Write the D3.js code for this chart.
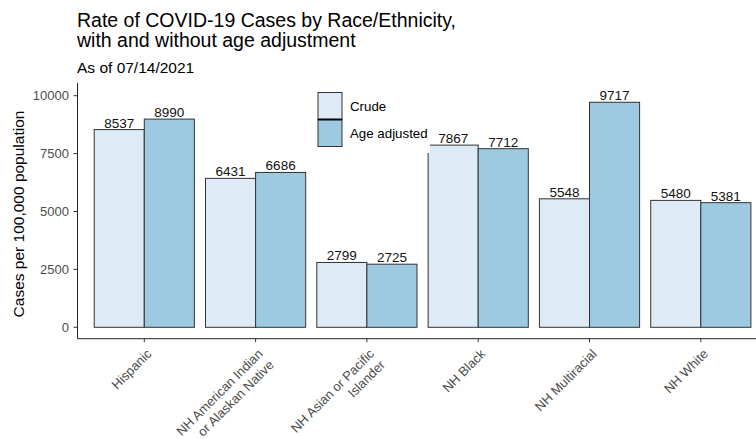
<!DOCTYPE html>
<html>
<head>
<meta charset="utf-8">
<script src="https://cdn.jsdelivr.net/npm/d3@7"></script>
<style>
  html, body { margin: 0; padding: 0; background: #fff; }
  svg { display: block; font-family: "Liberation Sans", Arial, sans-serif; }
</style>
</head>
<body>
<svg id="chart" width="756" height="439"></svg>
<script>
// Case rates per 100,000 by race/ethnicity
const categories = [
  "Hispanic",
  "NH American Indian\nor Alaskan Native",
  "NH Asian or Pacific\nIslander",
  "NH Black",
  "NH Multiracial",
  "NH White"
];
const seriesNames = ["Crude", "Age adjusted"];
const crude    = [8537, 6431, 2799, 7867, 5548, 5480];
const adjusted = [8990, 6686, 2725, 7712, 9717, 5381];
const yTicks = [0, 2500, 5000, 7500, 10000];
const seriesColors = ["#DEEBF7", "#9ECAE1"];

const svg = d3.select("#chart");

// Panel geometry
const panel = { left: 77.5, right: 767.6, top: 83, bottom: 338.7 };

const y = d3.scaleLinear().domain([0, 10000]).range([327.3, 95.7]);

const x = d3.scalePoint()
  .domain(categories)
  .range([panel.left, panel.right])
  .padding(0.6);

const step = x.step();
const xs = d3.scaleBand()
  .domain(seriesNames)
  .range([-0.45 * step, 0.45 * step])
  .padding(0);

const rows = [];
categories.forEach((c, i) => {
  rows.push({ cat: c, series: seriesNames[0], value: crude[i] });
  rows.push({ cat: c, series: seriesNames[1], value: adjusted[i] });
});
const color = d3.scaleOrdinal().domain(seriesNames).range(seriesColors);

// Bars
svg.append("g").selectAll("rect")
  .data(rows)
  .join("rect")
  .attr("x", d => x(d.cat) + xs(d.series))
  .attr("y", d => y(d.value))
  .attr("width", xs.bandwidth())
  .attr("height", d => y(0) - y(d.value))
  .attr("fill", d => color(d.series))
  .attr("stroke", "#333")
  .attr("stroke-width", 1);

// Value labels
svg.append("g").selectAll("text")
  .data(rows)
  .join("text")
  .attr("x", d => x(d.cat) + xs(d.series) + xs.bandwidth() / 2)
  .attr("y", d => y(d.value) - 2)
  .attr("text-anchor", "middle")
  .attr("font-size", 13.5)
  .attr("fill", "#111")
  .text(d => d.value);

// Y axis
const yAxis = svg.append("g");
yAxis.append("line")
  .attr("x1", panel.left).attr("x2", panel.left)
  .attr("y1", panel.top).attr("y2", panel.bottom)
  .attr("stroke", "#222");
yAxis.selectAll("line.tick")
  .data(yTicks)
  .join("line")
  .attr("class", "tick")
  .attr("x1", panel.left - 4).attr("x2", panel.left)
  .attr("y1", d => y(d)).attr("y2", d => y(d))
  .attr("stroke", "#333");
yAxis.selectAll("text")
  .data(yTicks)
  .join("text")
  .attr("x", panel.left - 8.5)
  .attr("y", d => y(d))
  .attr("dy", "0.36em")
  .attr("text-anchor", "end")
  .attr("font-size", 13)
  .attr("fill", "#4D4D4D")
  .text(d => d);

// X axis
const xAxis = svg.append("g");
xAxis.append("line")
  .attr("x1", panel.left).attr("x2", 756)
  .attr("y1", panel.bottom).attr("y2", panel.bottom)
  .attr("stroke", "#222");
xAxis.selectAll("line.tick")
  .data(categories)
  .join("line")
  .attr("class", "tick")
  .attr("x1", d => x(d)).attr("x2", d => x(d))
  .attr("y1", panel.bottom).attr("y2", panel.bottom + 3.5)
  .attr("stroke", "#333");
const xLabels = xAxis.selectAll("text")
  .data(categories)
  .join("text")
  .attr("transform", d => `translate(${x(d) + 8},${panel.bottom + 16}) rotate(-45)`)
  .attr("text-anchor", "end")
  .attr("font-size", 13)
  .attr("fill", "#4D4D4D");
xLabels.selectAll("tspan")
  .data(d => d.split("\n"))
  .join("tspan")
  .attr("x", 0)
  .attr("dy", (d, i) => i === 0 ? 0 : 15.5)
  .text(d => d);

// Axis title
svg.append("text")
  .attr("transform", "translate(24,214) rotate(-90)")
  .attr("text-anchor", "middle")
  .attr("font-size", 15.5)
  .attr("fill", "#000")
  .text("Cases per 100,000 population");

// Titles
svg.append("text")
  .attr("x", 77).attr("y", 26.7)
  .attr("font-size", 19.5)
  .attr("fill", "#000")
  .text("Rate of COVID-19 Cases by Race/Ethnicity,");
svg.append("text")
  .attr("x", 77).attr("y", 47)
  .attr("font-size", 19.5)
  .attr("fill", "#000")
  .text("with and without age adjustment");
svg.append("text")
  .attr("x", 77).attr("y", 73.3)
  .attr("font-size", 15.5)
  .attr("fill", "#000")
  .text("As of 07/14/2021");

// Legend
const legend = svg.append("g");
legend.append("rect")
  .attr("x", 309).attr("y", 84)
  .attr("width", 121).attr("height", 69)
  .attr("fill", "#fff");
const keyH = 27;
legend.selectAll("rect.key")
  .data(seriesNames)
  .join("rect")
  .attr("class", "key")
  .attr("x", 318).attr("y", (d, i) => 92.5 + i * keyH)
  .attr("width", 24).attr("height", keyH)
  .attr("fill", d => color(d))
  .attr("stroke", "#333")
  .attr("stroke-width", 1);
legend.append("line")
  .attr("x1", 318).attr("x2", 342)
  .attr("y1", 92.5 + keyH).attr("y2", 92.5 + keyH)
  .attr("stroke", "#000")
  .attr("stroke-width", 2);
legend.selectAll("text")
  .data(seriesNames)
  .join("text")
  .attr("x", 350)
  .attr("y", (d, i) => 92.5 + i * keyH + keyH / 2)
  .attr("dy", "0.36em")
  .attr("font-size", 13.3)
  .attr("fill", "#000")
  .text(d => d);
</script>
</body>
</html>
